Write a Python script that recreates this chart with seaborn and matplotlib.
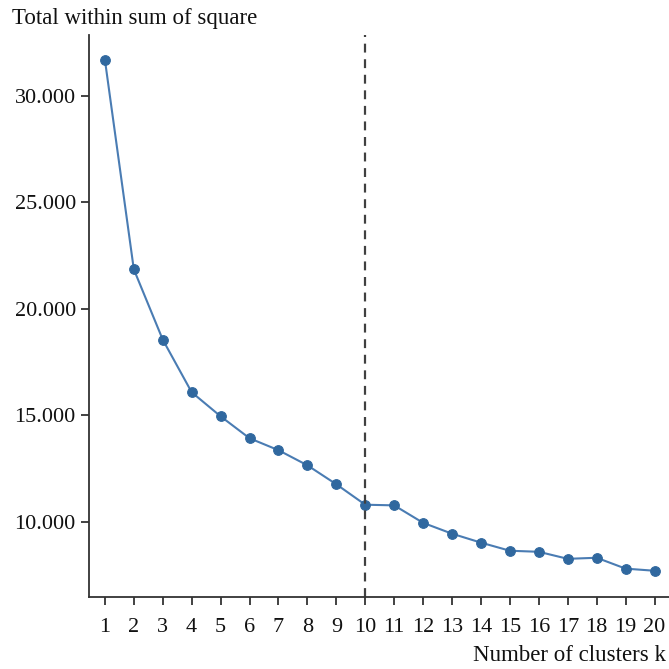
import matplotlib
matplotlib.use("Agg")
import matplotlib.pyplot as plt
import seaborn as sns
import pandas as pd
from matplotlib.ticker import FuncFormatter

# --- data ---
k_values = list(range(1, 21))
wss = [31690, 21850, 18550, 16080, 14950, 13920, 13360, 12650, 11760, 10800,
       10770, 9950, 9440, 9020, 8640, 8590, 8260, 8310, 7800, 7700]
optimal_k = 10

df = pd.DataFrame({"k": k_values, "wss": wss})

sns.set_theme(style="ticks")
plt.rcParams['font.family'] = ['Liberation Serif', 'DejaVu Serif']

fig = plt.figure(figsize=(6.69, 6.69), dpi=100)
ax = fig.add_axes([0.133, 0.108, 0.867, 0.84])

sns.lineplot(data=df, x="k", y="wss", ax=ax, color="#4a7cb3", linewidth=1.5,
             marker="o", markersize=7, markerfacecolor="#30689f",
             markeredgecolor="#30689f")
ax.axvline(optimal_k, color="#404040", linestyle=(0, (4, 3)), linewidth=1.6)

ax.set_xlim(0.45, 20.5)
ax.set_ylim(6480, 32860)
ax.set_xticks(k_values)
ax.set_yticks([10000, 15000, 20000, 25000, 30000])
ax.yaxis.set_major_formatter(FuncFormatter(lambda v, p: f"{int(v):,}".replace(",", ".")))

for side in ["top", "right"]:
    ax.spines[side].set_visible(False)
for side in ["left", "bottom"]:
    ax.spines[side].set_color("#333333")
    ax.spines[side].set_linewidth(1.3)
ax.tick_params(axis="both", colors="#333333", labelcolor="#111111",
               labelsize=16, length=6, width=1.3)
ax.tick_params(axis="x", pad=9)

ax.set_xlabel("")
ax.set_ylabel("")
fig.text(0.995, 0.004, "Number of clusters k", ha="right", va="bottom",
         fontsize=16.5, color="#111111")
fig.text(0.018, 0.972, "Total within sum of square", ha="left", va="center",
         fontsize=16.5, color="#111111")

fig.savefig("out.png", dpi=100)
plt.close(fig)
